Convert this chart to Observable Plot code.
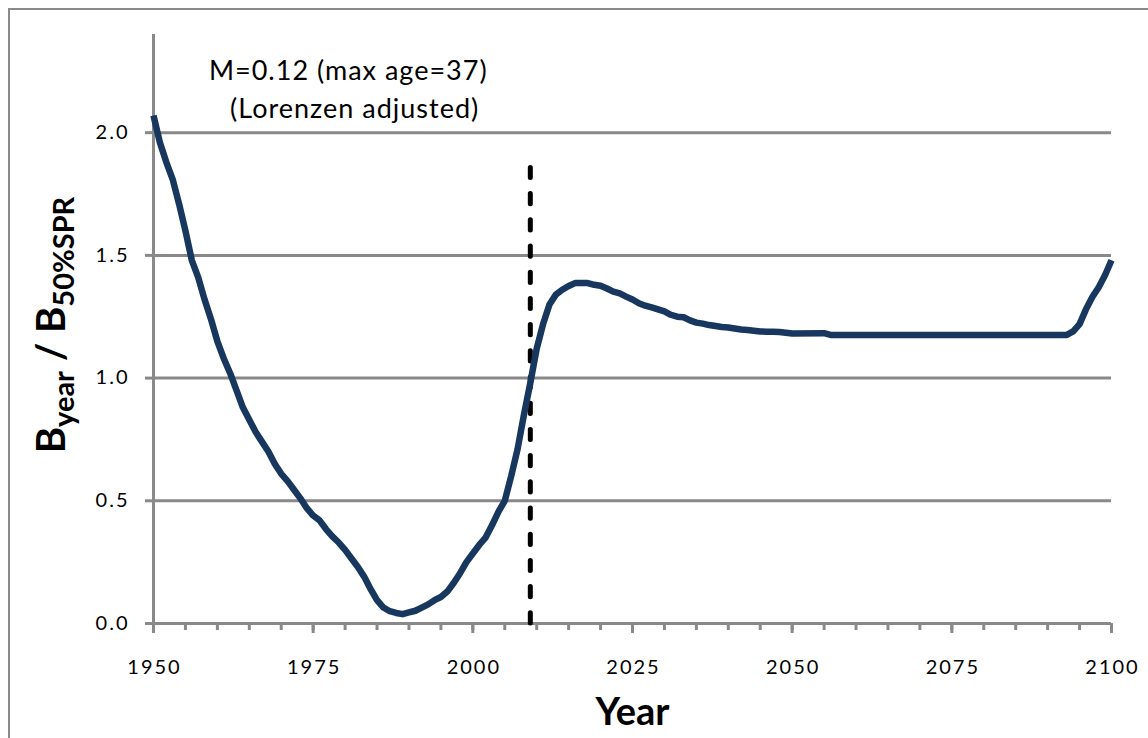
<!DOCTYPE html>
<html>
<head>
<meta charset="utf-8">
<script src="https://cdn.jsdelivr.net/npm/d3@7"></script>
<script src="https://cdn.jsdelivr.net/npm/@observablehq/plot@0.6"></script>
<style>
  html, body { margin: 0; padding: 0; background: #fff; overflow: hidden; }
  #wrap { position: relative; width: 1148px; height: 738px; }
  #border { position: absolute; left: 8px; top: 8px; width: 1300px; height: 900px; border: 2px solid #8a8a8a; box-sizing: border-box; }
  #chart { position: absolute; left: 0; top: 0; }
</style>
</head>
<body>
<div id="wrap"><div id="border"></div><div id="chart"></div></div>
<script>
// ---- data ----
const years = [1950,1951,1952,1953,1954,1955,1956,1957,1958,1959,1960,1961,1962,1963,1964,1965,1966,1967,1968,1969,
  1970,1971,1972,1973,1974,1975,1976,1977,1978,1979,1980,1981,1982,1983,1984,1985,1986,1987,1988,1989,
  1990,1991,1992,1993,1994,1995,1996,1997,1998,1999,2000,2001,2002,2003,2004,2005,2006,2007,2008,2009,
  2010,2011,2012,2013,2014,2015,2016,2017,2018,2019,2020,2021,2022,2023,2024,2025,2026,2027,2028,2029,
  2030,2031,2032,2033,2034,2035,2036,2037,2038,2039,2040,2041,2042,2043,2044,2045,2046,2047,2048,2049,
  2050,2055,2056,2093,2094,2095,2096,2097,2098,2099,2100];
const ratio = [2.07,1.96,1.88,1.81,1.71,1.60,1.48,1.41,1.32,1.24,1.15,1.08,1.02,0.95,0.88,0.83,0.78,0.74,0.70,0.65,
  0.61,0.58,0.545,0.51,0.47,0.44,0.42,0.385,0.355,0.33,0.30,0.265,0.23,0.19,0.14,0.095,0.065,0.05,0.043,0.038,
  0.045,0.052,0.065,0.078,0.095,0.108,0.13,0.165,0.205,0.25,0.285,0.32,0.35,0.40,0.455,0.50,0.60,0.71,0.85,0.98,
  1.12,1.22,1.30,1.34,1.36,1.375,1.387,1.387,1.387,1.38,1.376,1.365,1.352,1.345,1.332,1.32,1.305,1.295,1.288,1.28,
  1.272,1.258,1.25,1.248,1.235,1.226,1.222,1.216,1.212,1.208,1.206,1.202,1.198,1.196,1.193,1.19,1.189,1.189,1.188,1.185,
  1.182,1.183,1.176,1.176,1.19,1.22,1.28,1.33,1.37,1.42,1.48];
const gridValues = [0.5, 1.0, 1.5, 2.0];
const yTicks = [0, 0.5, 1.0, 1.5, 2.0];
const xMajorTicks = [1950, 1975, 2000, 2025, 2050, 2075, 2100];
const xMinorTicks = d3.range(1950, 2101, 5);
const projectionStart = 2009;
const projectionTop = 1.874;
const noteLines = ["M=0.12 (max age=37)", "(Lorenzen adjusted)"];
const xTitle = "Year";

const series = years.map((y, i) => ({year: y, value: ratio[i]}));
const gray = "#898989";
const font = "Lato, 'Open Sans', sans-serif";
const xLabelText = xMajorTicks.map(String);
const yLabelText = yTicks.map(d => d.toFixed(1));

const chart = Plot.plot({
  width: 1148,
  height: 738,
  marginLeft: 153,
  marginRight: 37,
  marginTop: 34,
  marginBottom: 115,
  style: {fontFamily: font, fontSize: "20px", background: "transparent", color: "#000"},
  x: {domain: [1950, 2100]},
  y: {domain: [0, 2.4]},
  marks: [
    Plot.ruleY(gridValues, {stroke: gray, strokeWidth: 3, strokeOpacity: 1}),
    Plot.axisX(xMinorTicks, {tickSize: 7, tickFormat: () => "", stroke: gray, strokeWidth: 3, label: null}),
    Plot.axisX(xMajorTicks, {tickSize: 10, tickFormat: () => "", stroke: gray, strokeWidth: 3, label: null}),
    Plot.axisY(yTicks, {tickSize: 8, tickFormat: () => "", stroke: gray, strokeWidth: 3, label: null}),
    // tick labels as text marks positioned through the scales
    Plot.text(xMajorTicks, {x: d => d, y: 0, dy: 44, text: d => String(d), fontSize: 20, fill: "#000", dx: 1}),
    Plot.text(yTicks, {x: 1950, y: d => d, dx: -24, textAnchor: "end", text: d => d.toFixed(1), fontSize: 20, fill: "#000"}),
    Plot.ruleX([1950], {y1: 0, y2: 2.4, stroke: gray, strokeWidth: 3}),
    Plot.ruleY([0], {stroke: gray, strokeWidth: 3}),
    Plot.ruleX([projectionStart], {y1: 0, y2: projectionTop, stroke: "#000", strokeWidth: 5, strokeDasharray: "10.2,16", strokeLinecap: "round"}),
    Plot.line(series, {x: "year", y: "value", stroke: "#17375E", strokeWidth: 6.5, strokeLinejoin: "round", strokeLinecap: "butt"}),
    Plot.text([noteLines[0]], {x: 1980.5, y: 2.216, text: d => d, lineAnchor: "bottom", fontSize: 27, fill: "#000", textAnchor: "middle"}),
    Plot.text([noteLines[1]], {x: 1981.5, y: 2.061, text: d => d, lineAnchor: "bottom", fontSize: 27, fill: "#000", textAnchor: "middle"}),
    Plot.text([xTitle], {frameAnchor: "bottom", dy: 101, text: d => d, fontSize: 38, fontWeight: "bold", fill: "#000"})
  ]
});
document.getElementById("chart").appendChild(chart);

const svg = d3.select(chart);
svg.selectAll("text").filter(function() {
  const s = this.textContent;
  return xLabelText.includes(s) || yLabelText.includes(s);
}).style("letter-spacing", "2px");
svg.selectAll("text").filter(function() { return noteLines.includes(this.textContent); })
  .style("letter-spacing", "1px");

// y-axis title with subscripts
const t = svg.append("text")
  .attr("transform", "translate(65,325) rotate(-90)")
  .attr("text-anchor", "middle")
  .attr("font-family", font)
  .attr("font-weight", "bold")
  .attr("font-size", 40)
  .attr("fill", "#000");
t.append("tspan").text("B");
t.append("tspan").attr("font-size", 29).attr("dy", 9).text("year");
t.append("tspan").attr("dy", -9).text(" / B");
t.append("tspan").attr("font-size", 29).attr("dy", 9).text("50%SPR");
</script>
</body>
</html>
